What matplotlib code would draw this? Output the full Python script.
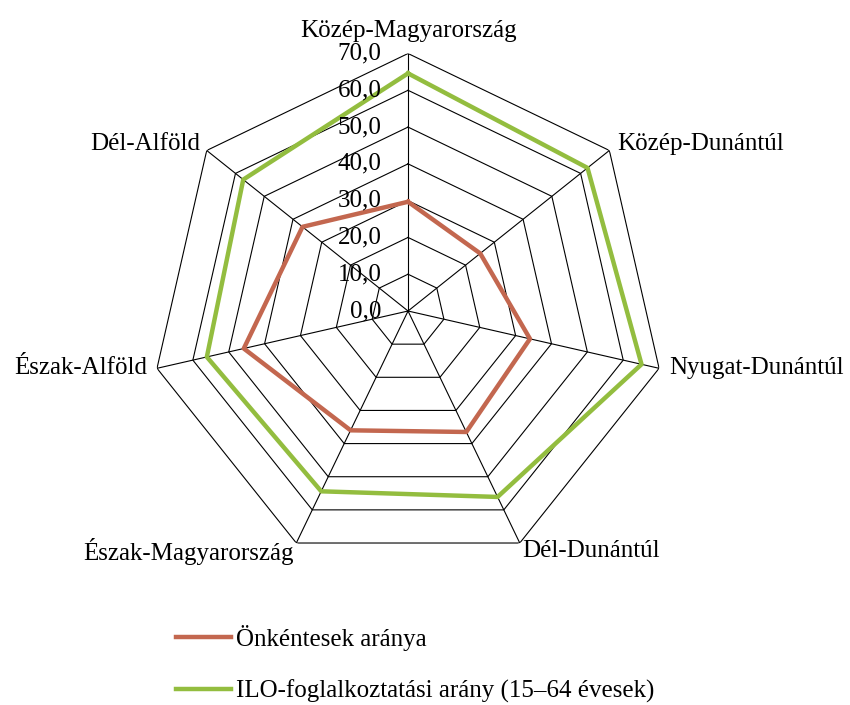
import numpy as np
import matplotlib
matplotlib.use('Agg')
import matplotlib.pyplot as plt

plt.rcParams['font.family'] = ['Liberation Serif', 'DejaVu Serif']

# regions, clockwise from the top
regions = ['Közép-Magyarország', 'Közép-Dunántúl', 'Nyugat-Dunántúl', 'Dél-Dunántúl',
           'Észak-Magyarország', 'Észak-Alföld', 'Dél-Alföld']
volunteers = [29.7, 25.1, 34.0, 36.5, 36.0, 45.8, 36.7]
employment = [64.6, 62.4, 65.1, 56.1, 54.4, 56.1, 57.3]
rings = [0, 10, 20, 30, 40, 50, 60, 70]
ring_labels = ['0,0', '10,0', '20,0', '30,0', '40,0', '50,0', '60,0', '70,0']

red = '#C3674F'
green = '#93BD3F'

n = len(regions)
theta = np.arange(n) * 2 * np.pi / n
theta_closed = np.append(theta, theta[0])

fig = plt.figure(figsize=(8.5, 7.05), dpi=100)
ax = fig.add_axes([0.1771, 0.1936, 0.6059, 0.7305], projection='polar')
ax.set_theta_zero_location('N')
ax.set_theta_direction(-1)
ax.set_ylim(0, 70)
ax.grid(False)
ax.spines['polar'].set_visible(False)
ax.set_xticks([])
ax.set_yticks([])

# polygon grid and spokes
for r in rings[1:]:
    ax.plot(theta_closed, [r] * (n + 1), color='black', lw=0.8, zorder=1)
for t in theta:
    ax.plot([t, t], [0, 70], color='black', lw=0.8, zorder=1)

ax.plot(theta_closed, volunteers + volunteers[:1], color=red, lw=3.2, zorder=3)
ax.plot(theta_closed, employment + employment[:1], color=green, lw=3.2, zorder=3)

# value labels left of the top spoke
for r, lab in zip(rings, ring_labels):
    ax.annotate(lab, xy=(0, r), xytext=(-19, 0), textcoords='offset points',
                ha='right', va='center', fontsize=18, annotation_clip=False)

# region labels
offsets = [(0, 8, 'center', 'bottom'), (6, 5, 'left', 'center'), (7, 0, 'left', 'center'),
           (2, -6, 'left', 'center'), (-2, -6, 'right', 'center'), (-7, 0, 'right', 'center'),
           (-5, 5, 'right', 'center')]
for t, name, (dx, dy, ha, va) in zip(theta, regions, offsets):
    ax.annotate(name, xy=(t, 70), xytext=(dx, dy), textcoords='offset points',
                ha=ha, va=va, fontsize=18, annotation_clip=False)

# legend
leg = fig.legend(ax.lines[-2:], ['Önkéntesek aránya', 'ILO-foglalkoztatási arány (15–64 évesek)'],
                 loc='lower left', bbox_to_anchor=(0.181, -0.029), frameon=False,
                 fontsize=18, handlelength=2.2, handletextpad=0.2, labelspacing=1.16)

fig.savefig('out.png', dpi=100)
